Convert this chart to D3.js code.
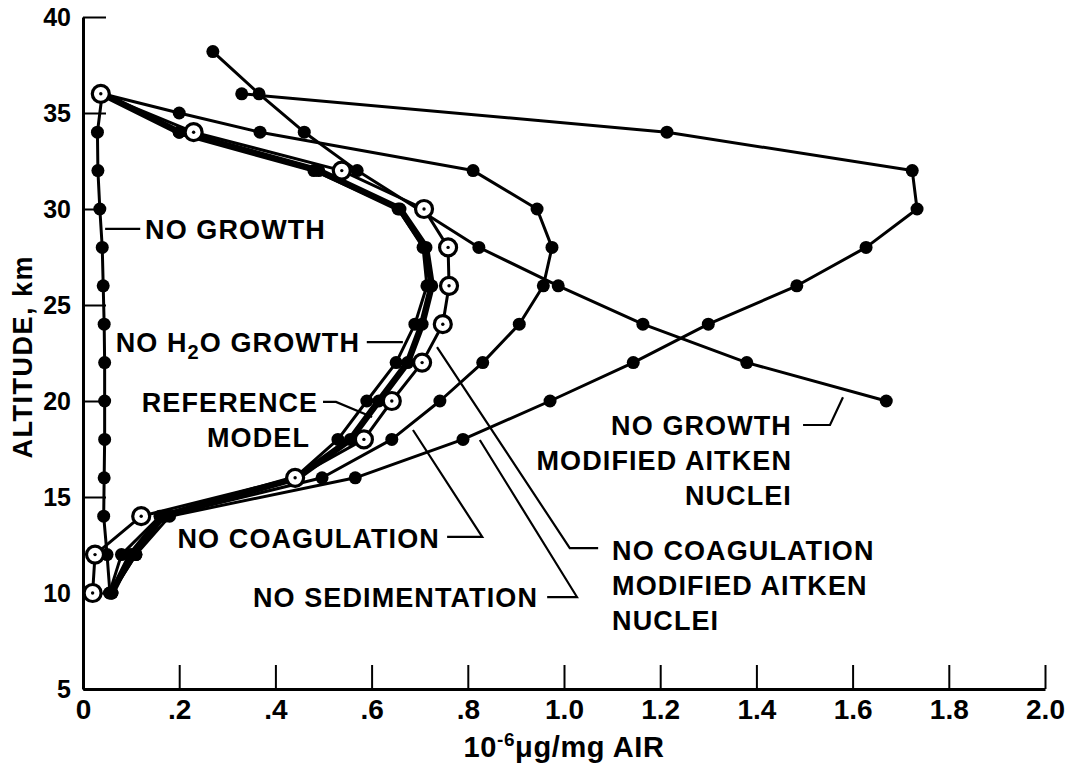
<!DOCTYPE html>
<html>
<head>
<meta charset="utf-8">
<script src="https://cdn.jsdelivr.net/npm/d3@7"></script>
<style>
  html, body { margin: 0; padding: 0; background: #fff; }
  svg { display: block; }
  text { font-family: "Liberation Sans", Arial, Helvetica, sans-serif; font-weight: bold; fill: #000; }
  .narrow { font-family: "Liberation Sans Narrow", "Liberation Sans", Arial, sans-serif; }
</style>
</head>
<body>
<svg id="chart" width="1076" height="772"></svg>
<script>
// Sulfate mass mixing ratio profiles (10^-6 µg per mg of air) vs altitude (km)
const altitude = [36, 34, 32, 30, 28, 26, 24, 22, 20, 18, 16, 14, 12, 10];
const altitudeNoCoag = [36, 35, 34, 32, 30, 28, 26, 24, 22, 20, 18, 16, 14, 12, 10];
const altitudeNoGrowthAitken = [38.2, 36, 34, 32, 28, 26, 24, 22, 20];

const noGrowth          = [0.04, 0.03, 0.031, 0.035, 0.04, 0.042, 0.044, 0.045, 0.045, 0.045, 0.044, 0.043, 0.05, 0.056];
const referenceModel    = [0.04, 0.20, 0.49, 0.659, 0.713, 0.725, 0.705, 0.675, 0.615, 0.556, 0.445, 0.165, 0.10, 0.06];
const noH2OGrowth       = [0.04, 0.20, 0.48, 0.655, 0.707, 0.715, 0.69, 0.651, 0.59, 0.53, 0.44, 0.16, 0.08, 0.055];
const noCoagAitken      = [0.037, 0.23, 0.538, 0.709, 0.759, 0.761, 0.748, 0.705, 0.642, 0.584, 0.441, 0.121, 0.025, 0.02];
const noCoagulation     = [0.04, 0.20, 0.368, 0.811, 0.944, 0.975, 0.957, 0.907, 0.831, 0.742, 0.642, 0.497, 0.17, 0.11, 0.06];
const noSedimentation   = [0.33, 1.214, 1.724, 1.734, 1.628, 1.484, 1.30, 1.144, 0.971, 0.79, 0.566, 0.18, 0.11, 0.06];
const noGrowthAitken    = [0.27, 0.366, 0.46, 0.57, 0.823, 0.988, 1.164, 1.38, 1.67];

const xTicks = [0, 0.2, 0.4, 0.6, 0.8, 1.0, 1.2, 1.4, 1.6, 1.8, 2.0];
const xTickLabels = ["0", ".2", ".4", ".6", ".8", "1.0", "1.2", "1.4", "1.6", "1.8", "2.0"];
const yTicks = [5, 10, 15, 20, 25, 30, 35, 40];
const yTickLabels = ["5", "10", "15", "20", "25", "30", "35", "40"];

const svg = d3.select("#chart");
const x = d3.scaleLinear().domain([0, 2]).range([83, 1045]);
const y = d3.scaleLinear().domain([5, 40]).range([689, 17]);

// Axes: ticks point inward
const xAxis = d3.axisBottom(x).tickValues(xTicks)
  .tickFormat((d, i) => xTickLabels[i]).tickSizeInner(-24).tickSizeOuter(0).tickPadding(10);
const yAxis = d3.axisLeft(y).tickValues(yTicks)
  .tickFormat((d, i) => yTickLabels[i]).tickSizeInner(-23).tickSizeOuter(0).tickPadding(12);

const gx = svg.append("g").attr("transform", `translate(0,${y(5)})`).call(xAxis);
gx.select(".domain").attr("stroke", "#000").attr("stroke-width", 3);
gx.selectAll(".tick line").attr("stroke", "#000").attr("stroke-width", 2);
gx.selectAll(".tick text").attr("class", "narrow").style("font-size", "28px")
  .style("font-weight", "bold").attr("fill", "#000");

const gy = svg.append("g").attr("transform", `translate(${x(0)},0)`).call(yAxis);
gy.select(".domain").attr("stroke", "#000").attr("stroke-width", 3);
gy.selectAll(".tick line").attr("stroke", "#000").attr("stroke-width", 2);
gy.selectAll(".tick text").style("font-size", "25px").style("font-weight", "bold")
  .attr("fill", "#000").style("font-family", "'Liberation Sans', Arial, sans-serif");

// Axis titles
const xt = svg.append("text").attr("class", "narrow").attr("text-anchor", "middle")
  .attr("x", x(1.0)).attr("y", 757).style("font-size", "29px").style("letter-spacing", "0.6px");
xt.append("tspan").text("10");
xt.append("tspan").attr("dy", -11).style("font-size", "19px").text("-6");
xt.append("tspan").attr("dy", 11).text("\u03bcg/mg AIR");

svg.append("text").attr("text-anchor", "middle")
  .attr("transform", `translate(32,${y(22.3)}) rotate(-90)`)
  .style("font-size", "27px").style("letter-spacing", "1.5px")
  .text("ALTITUDE, km");

// Series
const line = d3.line().x(d => x(d[0])).y(d => y(d[1]));
const zipPts = (vals, alts) => vals.map((v, i) => [v, alts[i]]);

const series = [
  { vals: noGrowth, alts: altitude, width: 3, marker: "dot" },
  { vals: noGrowthAitken, alts: altitudeNoGrowthAitken, width: 3, marker: "dot" },
  { vals: noSedimentation, alts: altitude, width: 3, marker: "dot" },
  { vals: noCoagulation, alts: altitudeNoCoag, width: 3, marker: "dot" },
  { vals: noH2OGrowth, alts: altitude, width: 3, marker: "dot" },
  { vals: referenceModel, alts: altitude, width: 6.5, marker: "dot" },
  { vals: noCoagAitken, alts: altitude, width: 3, marker: "open" }
];

const linesG = svg.append("g");
series.forEach(s => {
  linesG.append("path").datum(zipPts(s.vals, s.alts))
    .attr("d", line).attr("fill", "none").attr("stroke", "#000")
    .attr("stroke-width", s.width).attr("stroke-linejoin", "round").attr("stroke-linecap", "round");
});

const markG = svg.append("g");
series.filter(s => s.marker === "dot").forEach(s => {
  markG.selectAll(null).data(zipPts(s.vals, s.alts)).enter().append("circle")
    .attr("cx", d => x(d[0])).attr("cy", d => y(d[1])).attr("r", 6.5).attr("fill", "#000");
});
series.filter(s => s.marker === "open").forEach(s => {
  const pts = zipPts(s.vals, s.alts);
  markG.selectAll(null).data(pts).enter().append("circle")
    .attr("cx", d => x(d[0])).attr("cy", d => y(d[1])).attr("r", 8.5)
    .attr("fill", "#fff").attr("stroke", "#000").attr("stroke-width", 3.2);
  markG.selectAll(null).data(pts).enter().append("circle")
    .attr("cx", d => x(d[0])).attr("cy", d => y(d[1])).attr("r", 1.7).attr("fill", "#000");
});

// Annotations: leader lines and labels, anchored in data units
const leaders = [
  [[0.046, 28.96], [0.119, 28.96]],
  [[0.590, 23.07], [0.665, 23.07]],
  [[0.499, 19.95], [0.526, 19.95], [0.601, 19.17]],
  [[0.757, 12.92], [0.830, 12.92], [0.686, 18.49]],
  [[0.965, 9.79], [1.027, 9.79], [0.825, 17.97]],
  [[0.736, 22.81], [1.012, 12.34], [1.071, 12.34]],
  [[1.497, 18.75], [1.553, 18.75], [1.580, 20.2]]
];
const annG = svg.append("g");
leaders.forEach(pts => {
  annG.append("path").datum(pts).attr("d", line).attr("fill", "none")
    .attr("stroke", "#000").attr("stroke-width", 2.2);
});

const labels = [
  { t: "NO GROWTH", v: 0.129, a: 28.96, anchor: "start" },
  { t: "REFERENCE", v: 0.489, a: 19.95, anchor: "end" },
  { t: "MODEL", v: 0.472, a: 18.1, anchor: "end" },
  { t: "NO COAGULATION", v: 0.742, a: 12.86, anchor: "end" },
  { t: "NO SEDIMENTATION", v: 0.946, a: 9.79, anchor: "end" },
  { t: "NO COAGULATION", v: 1.10, a: 12.24, anchor: "start" },
  { t: "MODIFIED AITKEN", v: 1.10, a: 10.42, anchor: "start" },
  { t: "NUCLEI", v: 1.10, a: 8.59, anchor: "start" },
  { t: "NO GROWTH", v: 1.474, a: 18.75, anchor: "end" },
  { t: "MODIFIED AITKEN", v: 1.474, a: 16.93, anchor: "end" },
  { t: "NUCLEI", v: 1.474, a: 15.10, anchor: "end" }
];
labels.forEach(l => {
  annG.append("text").attr("x", x(l.v)).attr("y", y(l.a)).attr("dy", "0.36em")
    .attr("text-anchor", l.anchor).style("font-size", "27px").style("letter-spacing", "1.1px")
    .text(l.t);
});

// Label with subscript: NO H2O GROWTH
const h2o = annG.append("text").attr("x", x(0.576)).attr("y", y(23.07)).attr("dy", "0.36em")
  .attr("text-anchor", "end").style("font-size", "27px").style("letter-spacing", "1.1px");
h2o.append("tspan").text("NO H");
h2o.append("tspan").attr("dy", 7).style("font-size", "20px").text("2");
h2o.append("tspan").attr("dy", -7).text("O GROWTH");
</script>
</body>
</html>
